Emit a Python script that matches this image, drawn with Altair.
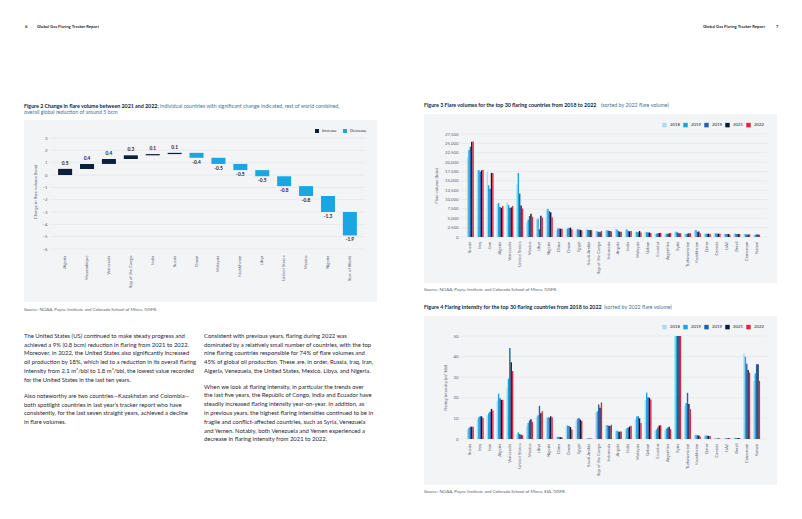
import altair as alt
import pandas as pd
import numpy as np

# ---------------- data ----------------
wf_countries = ["Algeria", "Mozambique", "Venezuela", "Rep of the Congo", "India", "Russia",
                "Oman", "Malaysia", "Kazakhstan", "Libya", "United States", "Mexico",
                "Nigeria", "Rest of World"]
wf_change = [0.5, 0.4, 0.4, 0.3, 0.1, 0.1, -0.4, -0.5, -0.5, -0.5, -0.8, -0.8, -1.3, -1.9]
wf_ticks = [3, 2, 1, 0, -1, -2, -3, -4, -5, -6]
wf_kinds = ["Increase", "Decrease"]

countries30 = ["Russia", "Iraq", "Iran", "Algeria", "Venezuela", "United States", "Mexico",
               "Libya", "Nigeria", "China", "Oman", "Egypt", "Saudi Arabia", "Rep of the Congo",
               "Indonesia", "Angola", "India", "Malaysia", "Gabon", "Ecuador", "Argentina",
               "Syria", "Turkmenistan", "Kazakhstan", "Qatar", "Canada", "UAE", "Brazil",
               "Cameroon", "Yemen"]
years = ["2018", "2019", "2020", "2021", "2022"]
year_labels = ["2018", "2019", "2019", "2021", "2022"]

vol_2018 = [21300, 17800, 17300, 8800, 9300, 14100, 3900, 4700, 7400, 1900, 2200, 1800, 1900, 1600,
            1800, 2200, 1900, 1300, 1300, 800, 700, 1200, 900, 1800, 900, 1000, 900, 900, 800, 500]
vol_2019 = [23200, 17900, 13800, 9100, 8600, 17100, 4600, 4900, 7500, 2300, 2300, 2100, 2000, 1500,
            1800, 2000, 2100, 1400, 1300, 900, 900, 1400, 800, 1900, 900, 1000, 800, 900, 800, 600]
vol_2020 = [24100, 17400, 12800, 8000, 7800, 11600, 5600, 2100, 6900, 2300, 2400, 2000, 1900, 1400,
            1700, 1600, 1600, 1300, 1200, 1000, 900, 1200, 900, 1400, 900, 900, 800, 800, 700, 700]
vol_2021 = [25400, 17800, 17100, 7800, 7900, 8400, 6200, 5700, 6600, 2200, 2500, 1900, 1900, 1300,
            1600, 1400, 1500, 1600, 1200, 1100, 1000, 1000, 1000, 1500, 900, 900, 800, 800, 700, 700]
vol_2022 = [25500, 17900, 17100, 8300, 8300, 7600, 5400, 5200, 5300, 2200, 2100, 1800, 1800, 1600,
            1500, 1400, 1600, 1200, 1100, 1100, 1100, 1000, 1000, 1000, 800, 900, 700, 800, 700, 600]
vol_ticks = [0, 2500, 5000, 7500, 10000, 12500, 15000, 17500, 20000, 22500, 25000, 27500]

int_2018 = [4.6, 9.4, 11.5, 18.6, 25.0, 2.6, 6.2, 10.8, 10.2, 1.0, 6.4, 9.0, 0.2, 12.8, 6.6, 3.8,
            4.7, 9.6, 18.8, 4.0, 4.3, 58.0, 16.0, 1.9, 1.8, 0.4, 0.4, 0.6, 41.5, 28.0]
int_2019 = [5.5, 10.6, 12.5, 22.0, 29.3, 3.2, 7.8, 11.5, 10.6, 1.1, 6.6, 9.8, 0.2, 13.4, 6.8, 4.0,
            5.2, 10.9, 22.5, 4.6, 5.0, 62.0, 17.5, 2.0, 1.6, 0.3, 0.4, 0.6, 40.0, 31.8]
int_2020 = [6.0, 11.1, 13.2, 19.8, 44.2, 2.4, 9.0, 16.1, 10.4, 1.0, 6.3, 10.2, 0.2, 16.8, 6.5, 3.6,
            5.6, 11.0, 20.3, 5.6, 5.5, 66.0, 22.4, 1.8, 1.7, 0.3, 0.4, 0.5, 36.5, 36.3]
int_2021 = [6.0, 11.0, 14.6, 19.0, 37.3, 2.1, 9.6, 12.5, 11.0, 0.9, 5.8, 9.4, 0.2, 15.2, 6.3, 3.5,
            6.0, 10.0, 20.0, 6.5, 6.0, 70.0, 17.0, 1.7, 1.5, 0.3, 0.4, 0.5, 33.5, 36.3]
int_2022 = [6.0, 10.2, 13.8, 19.0, 33.0, 1.8, 8.3, 13.5, 10.6, 0.8, 4.6, 8.8, 0.2, 17.7, 6.9, 3.7,
            6.4, 7.8, 19.2, 6.7, 4.8, 72.0, 14.4, 1.2, 1.4, 0.3, 0.4, 0.5, 32.2, 28.2]
int_ticks = [0, 10, 20, 30, 40, 50]

left_p1 = [
    "The United States (US) continued to make steady progress and",
    "achieved a 9% (0.8 bcm) reduction in flaring from 2021 to 2022.",
    "Moreover, in 2022, the United States also significantly increased",
    "oil production by 18%, which led to a reduction in its overall flaring",
    "intensity from 2.1 m³/bbl to 1.8 m³/bbl, the lowest value recorded",
    "for the United States in the last ten years.",
]
left_p2 = [
    "Also noteworthy are two countries\u2014Kazakhstan and Colombia\u2014",
    "both spotlight countries in last year\u2019s tracker report who have",
    "consistently, for the last seven straight years, achieved a decline",
    "in flare volumes.",
]
right_p1 = [
    "Consistent with previous years, flaring during 2022 was",
    "dominated by a relatively small number of countries, with the top",
    "nine flaring countries responsible for 74% of flare volumes and",
    "45% of global oil production. These are, in order, Russia, Iraq, Iran,",
    "Algeria, Venezuela, the United States, Mexico, Libya, and Nigeria.",
]
right_p2 = [
    "When we look at flaring intensity, in particular the trends over",
    "the last five years, the Republic of Congo, India and Ecuador have",
    "steadily increased flaring intensity year-on-year. In addition, as",
    "in previous years, the highest flaring intensities continued to be in",
    "fragile and conflict-affected countries, such as Syria, Venezuela",
    "and Yemen. Notably, both Venezuela and Yemen experienced a",
    "decrease in flaring intensity from 2021 to 2022.",
]

# ---------------- styles ----------------
FONT = "Lato"
NAVY = "#0b1f3f"
CYAN = "#19a6e3"
PANEL = "#f3f4f6"
GRID = "#e1e4e9"
AXIS_TXT = "#5c6370"
TEXT = "#1f2633"
TITLE_REG = "#4d7196"
year_colors = ["#a8dcf3", "#1aa4e2", "#1f63b0", "#0b1a3a", "#e0263d"]
BODY_FS = 5.9
LH = 8.8
TITLE_FS = 5.3
SRC_FS = 4.4
HEAD_FS = 4.2

dummy = pd.DataFrame({"k": [0]})


def rect(x, x2, y, y2, color):
    return alt.Chart(dummy).mark_rect(color=color).encode(
        x=alt.value(x), x2=alt.value(x2), y=alt.value(y), y2=alt.value(y2))


def txt(s, x, y, size, color, weight="normal", align="left", baseline="middle", lh=None):
    kw = dict(text=s, fontSize=size, color=color, fontWeight=weight, align=align,
              baseline=baseline, font=FONT)
    if lh is not None:
        kw["lineHeight"] = lh
    return alt.Chart(dummy).mark_text(**kw).encode(x=alt.value(x), y=alt.value(y))


label_expr = "".join(f"datum.label == '{y}' ? '{l}' : " for y, l in zip(years, year_labels)) + "datum.label"

# ---------------- Figure 2 (waterfall) ----------------
W2, H2 = 315, 115
end = np.cumsum(wf_change)
start = end - np.array(wf_change)
wf = pd.DataFrame({
    "country": wf_countries, "change": wf_change, "start": start, "end": end,
    "kind": [wf_kinds[0] if c > 0 else wf_kinds[1] for c in wf_change],
    "label": [f"{c:.1f}" for c in wf_change],
})

ys2 = alt.Scale(domain=[-6, 3.33], nice=False, zero=False)
yax2 = alt.Axis(values=wf_ticks, grid=False, ticks=False, domain=False, labelFontSize=4.3,
                labelColor=AXIS_TXT, labelPadding=3, title="Change in flare volume (bcm)",
                titleFontSize=4.3, titleFontWeight="normal", titleColor=AXIS_TXT, titlePadding=5,
                zindex=1)
xenc2 = alt.X("country:N", sort=wf_countries,
              scale=alt.Scale(paddingInner=0.36, paddingOuter=0.37),
              axis=alt.Axis(title=None, labelAngle=-90, labelFontSize=4.3, labelColor=AXIS_TXT,
                            ticks=False, domain=False, labelPadding=6, labelOverlap=False,
                            zindex=1))

grid2 = alt.Chart(pd.DataFrame({"v": wf_ticks})).mark_rule(color=GRID, strokeWidth=0.6).encode(
    y=alt.Y("v:Q", scale=ys2, axis=yax2))
bars2 = alt.Chart(wf).mark_bar().encode(
    x=xenc2,
    y=alt.Y("start:Q", scale=ys2, axis=yax2),
    y2="end:Q",
    color=alt.Color("kind:N", scale=alt.Scale(domain=wf_kinds, range=[NAVY, CYAN]),
                    legend=alt.Legend(title=None, orient="none", legendX=265, legendY=-5,
                                      direction="horizontal", symbolType="square",
                                      symbolSize=16, symbolStrokeWidth=0, labelFontSize=4,
                                      labelColor=TEXT, columnPadding=6, labelOffset=3,
                                      padding=0, zindex=1)))
lab_pos = alt.Chart(wf).transform_filter("datum.change > 0").mark_text(
    dy=-5, fontSize=4.8, fontWeight="bold", color=TEXT, font=FONT).encode(
    x=xenc2, y=alt.Y("end:Q", scale=ys2, axis=yax2), text="label:N")
lab_neg = alt.Chart(wf).transform_filter("datum.change < 0").mark_text(
    dy=5, fontSize=4.8, fontWeight="bold", color=TEXT, font=FONT).encode(
    x=xenc2, y=alt.Y("end:Q", scale=ys2, axis=yax2), text="label:N")

Y0 = 336 - 134 + 1.8
fig2 = alt.layer(
    rect(-42, 742, -126, 375, "#ffffff"),
    rect(-26, 327, -14, 168, PANEL),
    grid2, bars2, lab_pos, lab_neg,
    # page headers
    txt("6", -25, -107, HEAD_FS, TEXT, "bold"),
    txt("Global Gas Flaring Tracker Report", -13, -107, HEAD_FS, TEXT, "bold"),
    txt("Global Gas Flaring Tracker Report", 715, -107, HEAD_FS, TEXT, "bold", align="right"),
    txt("7", 726, -107, HEAD_FS, TEXT, "bold"),
    # figure title and source
    txt("Figure 2 Change in flare volume between 2021 and 2022;", -26, -28.3, TITLE_FS, NAVY, "bold"),
    txt("individual countries with significant change indicated, rest of world combined,",
        110, -28.3, TITLE_FS, TITLE_REG),
    txt("overall global reduction of around 5 bcm", -26, -22, TITLE_FS, TITLE_REG),
    txt("Source: NOAA, Payne Institute and Colorado School of Mines, GGFR.", -26, 175.5, SRC_FS, AXIS_TXT),
    # body text
    txt(left_p1, -26, Y0, BODY_FS, TEXT, baseline="alphabetic", lh=LH),
    txt(left_p2, -26, Y0 + 60, BODY_FS, TEXT, baseline="alphabetic", lh=LH),
    txt(right_p1, 154, Y0, BODY_FS, TEXT, baseline="alphabetic", lh=LH),
    txt(right_p2, 154, Y0 + 50.7, BODY_FS, TEXT, baseline="alphabetic", lh=LH),
).properties(width=W2, height=H2)

# ---------------- Figure 3 & 4 (grouped bars) ----------------
W3, H3 = 307, 103


def long_df(series):
    rows = []
    for y, vals in zip(years, series):
        for c, v in zip(countries30, vals):
            rows.append({"country": c, "year": y, "value": v})
    return pd.DataFrame(rows)


vol_df = long_df([vol_2018, vol_2019, vol_2020, vol_2021, vol_2022])
int_df = long_df([int_2018, int_2019, int_2020, int_2021, int_2022])


def grouped(df, ticks, domain, ytitle, title_b, title_r, reg_x, source, clip):
    ys = alt.Scale(domain=domain, nice=False)
    yax = alt.Axis(values=ticks, labelExpr="format(datum.value, ',')", grid=False, ticks=False,
                   domain=False, labelFontSize=4.3, labelColor=AXIS_TXT, labelPadding=2,
                   title=ytitle, titleFontSize=4.3, titleFontWeight="normal",
                   titleColor=AXIS_TXT, titlePadding=6, zindex=1)
    xenc = alt.X("country:N", sort=countries30,
                 scale=alt.Scale(paddingInner=0.3, paddingOuter=0.7),
                 axis=alt.Axis(title=None, labelAngle=-90, labelFontSize=4.3,
                               labelColor=AXIS_TXT, ticks=False, domain=False, labelPadding=4,
                               labelOverlap=False, zindex=1))
    grid = alt.Chart(pd.DataFrame({"v": ticks})).mark_rule(color=GRID, strokeWidth=0.6).encode(
        y=alt.Y("v:Q", scale=ys, axis=yax))
    bars = alt.Chart(df).mark_bar(clip=clip).encode(
        x=xenc,
        xOffset=alt.XOffset("year:N", sort=years),
        y=alt.Y("value:Q", scale=ys, axis=yax),
        color=alt.Color("year:N", scale=alt.Scale(domain=years, range=year_colors),
                        legend=alt.Legend(title=None, orient="none", legendX=202, legendY=-11.5,
                                          direction="horizontal", symbolType="square",
                                          symbolSize=20, symbolStrokeWidth=0, labelFontSize=4.3,
                                          labelColor=TEXT, columnPadding=3, labelOffset=3,
                                          padding=0, labelExpr=label_expr, zindex=1)))
    return alt.layer(
        rect(-36, 317, -20, 149, PANEL),
        grid, bars,
        txt(title_b, -36, -29, TITLE_FS, NAVY, "bold"),
        txt(title_r, reg_x, -29, TITLE_FS, TITLE_REG),
        txt(source, -36, 156, SRC_FS, AXIS_TXT),
    ).properties(width=W3, height=H3)


fig3 = grouped(vol_df, vol_ticks, [0, 27500], "Flare volume (bcm)",
               "Figure 3 Flare volumes for the top 30 flaring countries from 2018 to 2022",
               "(sorted by 2022 flare volume)", 141,
               "Source: NOAA, Payne Institute and Colorado School of Mines, GGFR.", False)
fig4 = grouped(int_df, int_ticks, [0, 50], "Flaring intensity (m³/bbl)",
               "Figure 4 Flaring intensity for the top 30 flaring countries from 2018 to 2022",
               "(sorted by 2022 flare volume)", 144,
               "Source: NOAA, Payne Institute and Colorado School of Mines, EIA, GGFR.", True)

right = alt.vconcat(fig3, fig4, spacing=99, bounds="flush").resolve_scale(
    color="independent", x="independent", y="independent")

chart = alt.hconcat(fig2, right, spacing=95, bounds="flush").resolve_scale(
    color="independent", x="independent", y="independent"
).properties(padding=0).configure(font=FONT).configure_view(strokeWidth=0)

chart.save("out.html", embed_options={"renderer": "svg", "actions": False})
